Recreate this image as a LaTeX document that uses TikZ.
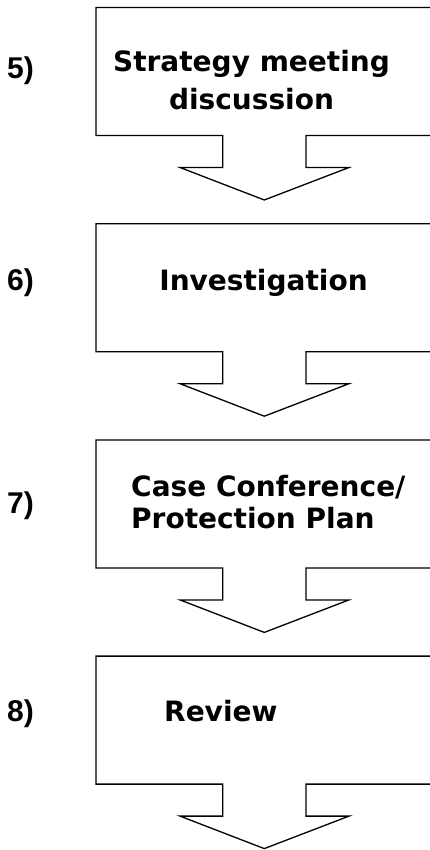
\documentclass[tikz,border=0pt]{standalone}
\usepackage{fontspec}
\setmainfont{DejaVu Sans}
\newfontfamily\numfont{Liberation Sans}

\begin{document}
\begin{tikzpicture}[x=1pt,y=-1pt]
        \tikzstyle{outline}=[draw, line width=1.3pt, fill=white]
        \tikzstyle{steptext}=[inner sep=0pt, font=\bfseries\fontsize{28}{38.3}\selectfont]
        \tikzstyle{stepnum}=[inner sep=0pt, anchor=base west, font=\numfont\bfseries\fontsize{30}{36}\selectfont]

        \useasboundingbox (0,0) rectangle (429,850);

        % callout outlines with their numbers
        \foreach \i/\t/\ny in {5/7.5/78.3, 6/223.7/290.7, 7/439.9/513.5, 8/656.1/721.5} {
            \draw[outline] (96,\t) -- (433,\t) -- (433,\t+128) -- (306,\t+128)
                -- (306,\t+160) -- (349,\t+160) -- (264.3,\t+192.5) -- (180,\t+160)
                -- (222.7,\t+160) -- (222.7,\t+128) -- (96,\t+128) -- cycle;
            \node[stepnum] (n\i) at (7,\ny) {\i)};
        }

        % base of a two-line node is its last line
        \node[steptext, anchor=base, align=center] (t5) at (251.5,110) {Strategy meeting\\discussion};
        \node[steptext, anchor=base] (t6) at (263.5,290.7) {Investigation};
        \node[steptext, anchor=base west, align=left, font=\bfseries\fontsize{28}{31.6}\selectfont] (t7) at (131,528.3) {Case Conference/\\Protection Plan};
        \node[steptext, anchor=base west] (t8) at (164,721.7) {Review};
\end{tikzpicture}
\end{document}
